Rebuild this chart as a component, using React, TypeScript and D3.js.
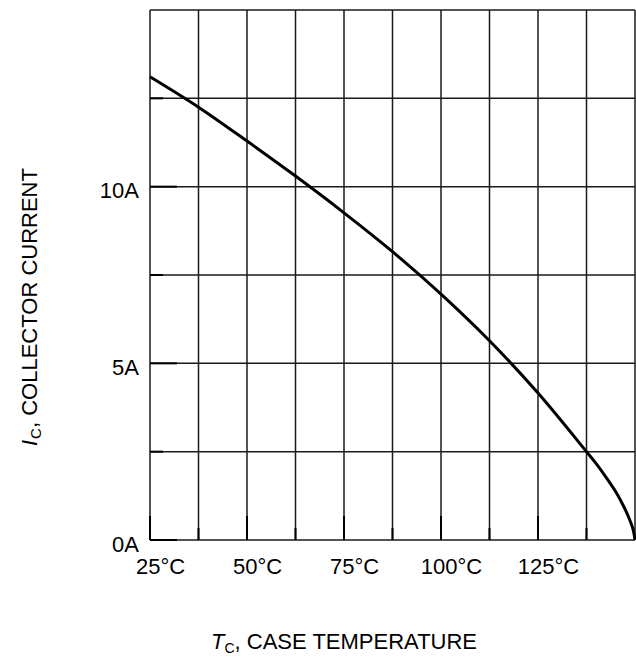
import React from "react";
import * as d3 from "d3";

// Derating curve: maximum collector current vs. case temperature
const caseTempC = [25, 37.5, 50, 62.5, 75, 87.5, 100, 112.5, 125, 137.5, 140, 142.5, 145, 147, 148.5, 149.5, 150];
const collectorCurrentA = [13.11, 12.25, 11.29, 10.3, 9.26, 8.16, 6.96, 5.64, 4.16, 2.5, 2.16, 1.78, 1.37, 0.97, 0.61, 0.3, 0];

// Axis labels
const tempTicks = [25, 50, 75, 100, 125];
const tempTickLabels = ["25°C", "50°C", "75°C", "100°C", "125°C"];
const currentTicks = [0, 5, 10];
const currentTickLabels = ["0A", "5A", "10A"];

const W = 636;
const H = 657;
const FONT = "'Liberation Sans', Arial, Helvetica, sans-serif";

export default function App() {
  const x = d3.scaleLinear().domain([25, 150]).range([150, 635]);
  const y = d3.scaleLinear().domain([0, 15]).range([540, 10]);

  const xGrid = d3.range(25, 150.01, 12.5);
  const yGrid = d3.range(0, 15.01, 2.5);
  const xMinor = xGrid.filter((v) => !tempTicks.includes(v) && v < 150);
  const yMinor = yGrid.filter((v) => !currentTicks.includes(v) && v < 15);

  const line = d3
    .line<number>()
    .x((_, i) => x(caseTempC[i]))
    .y((d) => y(d))
    .curve(d3.curveCatmullRom.alpha(0.5));

  const [x0, x1] = x.range();
  const [y0, y1] = y.range();

  return (
    <svg
      width={W}
      height={H}
      style={{ position: "absolute", left: 0, top: 0, background: "#fff" }}
      fontFamily={FONT}
    >
      {/* grid */}
      <g stroke="#1a1a1a" strokeWidth={1.5}>
        {xGrid.map((v) => (
          <line key={"gx" + v} x1={x(v)} x2={x(v)} y1={y1} y2={y0} />
        ))}
        {yGrid.map((v) => (
          <line key={"gy" + v} x1={x0} x2={x1} y1={y(v)} y2={y(v)} />
        ))}
      </g>

      {/* tick marks along left and bottom edges */}
      <g stroke="#000" strokeWidth={2}>
        {currentTicks.map((v) => (
          <line key={"ty" + v} x1={x0} x2={x0 + 27} y1={y(v)} y2={y(v)} />
        ))}
        {yMinor.map((v) => (
          <line key={"tym" + v} x1={x0} x2={x0 + 13} y1={y(v)} y2={y(v)} />
        ))}
        {tempTicks.map((v) => (
          <line key={"tx" + v} x1={x(v)} x2={x(v)} y1={y0} y2={y0 - 24} />
        ))}
        {xMinor.map((v) => (
          <line key={"txm" + v} x1={x(v)} x2={x(v)} y1={y0} y2={y0 - 12} />
        ))}
      </g>

      {/* curve */}
      <path
        d={line(collectorCurrentA) ?? ""}
        fill="none"
        stroke="#000"
        strokeWidth={3}
        strokeLinejoin="round"
      />

      {/* y tick labels */}
      <g fontSize={22} fill="#000" textAnchor="end">
        {currentTicks.map((v, i) => (
          <text key={"ly" + v} x={139} y={y(v) + 11.5}>
            {currentTickLabels[i]}
          </text>
        ))}
      </g>

      {/* x tick labels */}
      <g fontSize={22} fill="#000" textAnchor="middle">
        {tempTicks.map((v, i) => (
          <text key={"lx" + v} x={x(v) + 10.5} y={574}>
            {tempTickLabels[i]}
          </text>
        ))}
      </g>

      {/* y axis title */}
      <text transform="translate(36.5, 446) rotate(-90)" fontSize={22} fill="#000">
        <tspan fontStyle="italic">I</tspan>
        <tspan fontSize={15} dx={1} dy={4}>C</tspan>
        <tspan dy={-4}>,  COLLECTOR CURRENT</tspan>
      </text>

      {/* x axis title */}
      <text x={211} y={649} fontSize={22} fill="#000">
        <tspan fontStyle="italic">T</tspan>
        <tspan fontSize={14} dy={4}>C</tspan>
        <tspan dy={-4}>, CASE TEMPERATURE</tspan>
      </text>
    </svg>
  );
}
